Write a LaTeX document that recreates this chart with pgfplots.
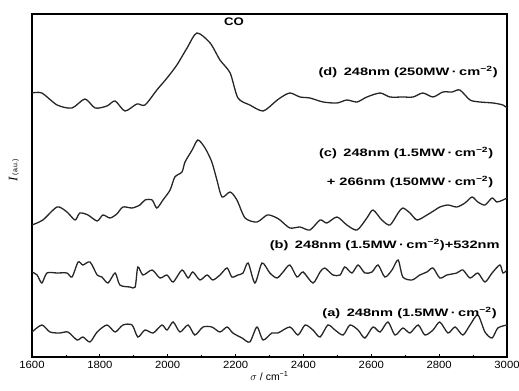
\documentclass[border=0pt]{standalone}
\usepackage{fontspec}
\setmainfont{Liberation Sans}
\newfontfamily\serif{Liberation Serif}
\usepackage{graphicx}
\usepackage{pgfplots}
\pgfplotsset{compat=1.18}
\newcommand{\lab}[1]{\scalebox{1.36}[1]{\bfseries\fontsize{10.8}{12}\selectfont #1}}
\newcommand{\mw}{MW\,·\,cm\textsuperscript{−2}}
\newcommand{\tl}[1]{\scalebox{1.08}[1]{#1}}
\begin{document}
\begin{tikzpicture}
\begin{axis}[
  scale only axis, width=475bp, height=343bp,
  xmin=1600, xmax=3000, ymin=43, ymax=386,
  clip=false,
  axis line style={line width=1.2pt},
  xtick={1600,1800,...,3000},
  xticklabels={\tl{1600},\tl{1800},\tl{2000},\tl{2200},\tl{2400},\tl{2600},\tl{2800},\tl{3000}},
  minor x tick num=1,
  xtick pos=bottom, tick align=inside,
  major tick length=3.5pt, minor tick length=2.5pt,
  ytick=\empty,
  xticklabel style={font=\fontsize{10.5}{12}\selectfont, yshift=-1pt},
  every tick/.style={line width=0.8pt, black},
  xlabel={$\sigma$ / cm\textsuperscript{−1}},
  xlabel style={font=\fontsize{10.5}{12}\selectfont, yshift=4pt},
]
\coordinate (sw) at (rel axis cs:0,0);
\coordinate (ne) at (rel axis cs:1,1);
% (d)
\addplot[black!85, line width=1.3pt, smooth, tension=0.45] coordinates {
(1600,307)(1629,307)(1674,295)(1718,292)(1756,301)(1786,292)(1821,294)(1845,299)(1874,289)(1909,296)(1933,295)(1968,310)(1998,322)(2027,335)(2057,352)(2086,367)(2125,357)(2154,340)(2184,327)(2207,302)(2242,295)(2281,289)(2316,298)(2331,302)(2360,307)(2390,303)(2419,302)(2458,298)(2499,297)(2528,300)(2558,298)(2587,303)(2626,307)(2655,303)(2693,303)(2723,303)(2752,307)(2782,303)(2811,308)(2838,308)(2861,310)(2891,300)(2920,298)(2959,297)(2988,295)(3000,292)
};
% (c)
\addplot[black!85, line width=1.3pt, smooth, tension=0.45] coordinates {
(1600,175)(1632,180)(1674,193)(1703,188)(1727,180)(1741,187)(1765,185)(1792,179)(1809,185)(1830,182)(1850,186)(1868,193)(1895,192)(1918,195)(1933,200)(1954,200)(1968,192)(1986,200)(2007,210)(2021,223)(2042,228)(2051,238)(2072,250)(2089,260)(2110,252)(2130,238)(2145,220)(2160,203)(2184,208)(2204,200)(2228,182)(2263,178)(2293,185)(2316,183)(2331,180)(2360,172)(2390,173)(2419,170)(2449,180)(2469,177)(2499,183)(2528,175)(2558,170)(2587,182)(2605,190)(2631,180)(2655,175)(2679,187)(2693,192)(2714,187)(2735,180)(2764,185)(2788,190)(2802,193)(2826,195)(2852,193)(2876,197)(2897,203)(2914,198)(2935,195)(2956,202)(2970,198)(2988,200)(3000,202)
};
% (b)
\addplot[black!85, line width=1.3pt, smooth, tension=0.45] coordinates {
(1600,128)(1615,125)(1629,117)(1644,127)(1674,127)(1703,127)(1718,123)(1736,138)(1750,135)(1771,138)(1792,125)(1806,123)(1824,117)(1845,127)(1859,115)(1889,113)(1904,113)(1912,133)(1927,125)(1954,130)(1977,122)(1998,125)(2016,118)(2042,130)(2060,122)(2074,128)(2095,120)(2116,125)(2133,120)(2154,125)(2175,132)(2189,123)(2207,125)(2222,127)(2237,137)(2257,117)(2278,137)(2301,127)(2322,122)(2340,128)(2360,135)(2381,123)(2399,128)(2428,117)(2449,128)(2463,132)(2487,125)(2508,125)(2522,133)(2543,127)(2561,135)(2581,127)(2602,128)(2620,135)(2640,123)(2661,130)(2679,140)(2693,123)(2720,120)(2743,125)(2764,128)(2782,132)(2802,122)(2823,125)(2852,127)(2870,130)(2891,122)(2914,127)(2935,118)(2956,127)(2979,135)(2988,127)(3000,130)
};
% (a)
\addplot[black!85, line width=1.3pt, smooth, tension=0.45] coordinates {
(1600,68)(1629,75)(1653,68)(1683,67)(1706,68)(1733,60)(1750,63)(1771,58)(1792,68)(1821,75)(1845,68)(1868,75)(1895,75)(1912,63)(1933,70)(1957,67)(1983,75)(1998,70)(2016,78)(2036,68)(2060,75)(2080,65)(2104,73)(2130,73)(2154,68)(2175,73)(2192,67)(2219,62)(2242,58)(2263,73)(2281,60)(2307,67)(2325,67)(2360,73)(2384,65)(2405,75)(2428,70)(2449,63)(2472,75)(2493,70)(2517,65)(2537,75)(2561,70)(2581,62)(2605,73)(2626,68)(2649,78)(2670,65)(2693,72)(2714,67)(2738,75)(2758,65)(2782,70)(2802,78)(2826,67)(2847,73)(2870,65)(2891,75)(2914,85)(2935,68)(2956,62)(2973,72)(3000,75)
};
\node[font=\bfseries\fontsize{11}{12}\selectfont] at (axis cs:2195,378) {\scalebox{1.2}[1]{CO}};
\node[anchor=east, inner sep=0pt] at (axis cs:2973,328) {\lab{(d)\, 248nm (250\mw)}};
\node[anchor=east, inner sep=0pt] at (axis cs:2960,247) {\lab{(c)\, 248nm (1.5\mw)}};
\node[anchor=east, inner sep=0pt] at (axis cs:2960,218) {\lab{+ 266nm (150\mw)}};
\node[anchor=east, inner sep=0pt] at (axis cs:2979,155) {\lab{(b)\, 248nm (1.5\mw)+532nm}};
\node[anchor=east, inner sep=0pt] at (axis cs:2970,87) {\lab{(a)\, 248nm (1.5\mw)}};
\node[rotate=90] at (rel axis cs:-0.038,0.545) {{\serif\itshape\fontsize{13}{13}\selectfont I}\,{\fontsize{7}{8}\selectfont (a.u.)}};
\end{axis}
\pgfresetboundingbox
\path ([shift={(-32bp,-34bp)}]sw) rectangle ([shift={(12bp,14bp)}]ne);
\end{tikzpicture}
\end{document}
